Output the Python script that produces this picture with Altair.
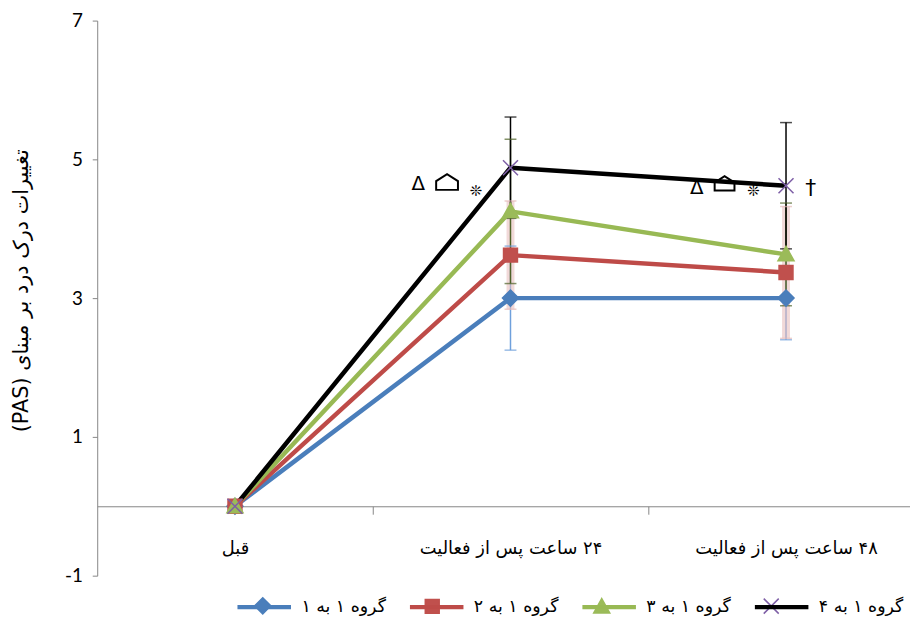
import altair as alt
import pandas as pd

# ---------------- data ----------------
categories = ["قبل", "۲۴ ساعت پس از فعالیت", "۴۸ ساعت پس از فعالیت"]
groups = ["گروه ۱ به ۱", "گروه ۱ به ۲", "گروه ۱ به ۳", "گروه ۱ به ۴"]

g1_mean = [0.0, 3.00, 3.00]
g2_mean = [0.0, 3.62, 3.37]
g3_mean = [0.0, 4.25, 3.63]
g4_mean = [0.0, 4.88, 4.62]

g1_err = [0.0, 0.75, 0.60]
g2_err = [0.0, 0.78, 0.95]
g3_err = [0.0, 1.04, 0.74]
g4_err = [0.0, 0.73, 0.91]

y_ticks = [-1, 1, 3, 5, 7]
y_title = "تغییرات درک درد بر مبنای (PAS)"

# significance marks (category index, value, symbol)
ann_cat = [1, 1, 1, 2, 2, 2, 2]
ann_val = [4.64, 4.67, 4.54, 4.59, 4.65, 4.54, 4.59]
ann_text = ["Δ", "⌂", "❊", "Δ", "⌂", "❊", "†"]

# ---------------- style ----------------
ann_dx = [-93, -64, -35, -90, -62, -33, 25]     # pixel offsets from the category
ann_size = [20, 22, 15, 20, 20, 15, 22]

line_colors = ["#4A7EBB", "#BE4B48", "#98B954", "#000000"]
marker_fill = ["#4A7EBB", "#C0504D", "#9BBB59", "transparent"]
marker_stroke = ["#4A7EBB", "#C0504D", "#9BBB59", "#7E5FA6"]
err_colors = ["#6FA0DC", "#E6B9B8", "#4F6228", "#000000"]
err_width = [1.5, 8, 1.5, 1.5]
err_opacity = [1, 0.55, 1, 1]
ext = "M-1,0M1,0"   # keeps every legend symbol as wide as the line symbol
marker_paths = [
    "M0,-0.3L0.3,0L0,0.3L-0.3,0Z" + ext,
    "M-0.26,-0.26L0.26,-0.26L0.26,0.26L-0.26,0.26Z" + ext,
    "M0,-0.3L0.3,0.24L-0.3,0.24Z" + ext,
    "M-0.28,-0.28L0.28,0.28M-0.28,0.28L0.28,-0.28" + ext,
]
house_path = "M-1,0.7L-1,-0.1L0,-0.75L1,-0.1L1,0.7Z"
SYM = 2916          # 54 px wide symbol box
W, H = 820, 560
x_dom = [-0.5, 2.45]
y_dom = [-1, 7]
step = W / (x_dom[1] - x_dom[0])
x_axis_offset = -(0 - y_dom[0]) / (y_dom[1] - y_dom[0]) * H
font_fa = "DejaVu Sans"
RLE, PDF = "\u202B", "\u202C"

means = [g1_mean, g2_mean, g3_mean, g4_mean]
errs = [g1_err, g2_err, g3_err, g4_err]
rows = []
for gi, g in enumerate(groups):
    for ci, c in enumerate(categories):
        m, e = means[gi][ci], errs[gi][ci]
        rows.append(dict(xi=ci, cat=c, g=g, gm=g, v=m, lo=m - e, hi=m + e, err=e,
                         ecol=err_colors[gi], ew=err_width[gi], eo=err_opacity[gi], order=gi))
df = pd.DataFrame(rows)
df_err = df[df.err > 0]

ann = pd.DataFrame(dict(x=[c + dx / step for c, dx in zip(ann_cat, ann_dx)],
                        v=ann_val, t=ann_text, s=ann_size))
ann_txt = ann[ann.t != "⌂"]
ann_house = ann[ann.t == "⌂"]

label_expr = " : ".join(
    f"datum.value == {i} ? '{RLE}{c}{PDF}'" for i, c in enumerate(categories)) + " : ''"

x_scale = alt.Scale(domain=x_dom, nice=False, zero=False)
y_scale = alt.Scale(domain=y_dom, nice=False, zero=False)

x_axis = alt.Axis(
    values=[0, 0.5, 1, 1.5, 2], labelExpr=label_expr, title=None, grid=False,
    offset=x_axis_offset, domainColor="#868686", tickColor="#868686", tickSize=8,
    tickOpacity={"condition": {"test": "datum.value % 1 === 0", "value": 0}, "value": 1},
    labelFont=font_fa, labelFontSize=18, labelColor="black", labelPadding=26,
    labelOverlap=False, labelFlush=False, labelBound=False, labelLimit=0,
)
y_axis = alt.Axis(
    values=y_ticks, labelExpr="'' + datum.value", grid=False,
    domainColor="#868686", tickColor="#868686", tickSize=5,
    labelFont="Lato", labelFontSize=19, labelColor="black", labelPadding=10,
    title=RLE + y_title + PDF, titleFont=font_fa, titleFontSize=21, titleFontWeight="normal",
    titleColor="black", titleX=-76, titleY=272, titleAngle=270,
    titleAlign="center", titleBaseline="middle", titleLimit=0,
)

X = alt.X("xi:Q", scale=x_scale, axis=x_axis)
Y = alt.Y("v:Q", scale=y_scale, axis=y_axis)

leg_common = dict(title=None, orient="none", legendX=139, legendY=562, direction="horizontal",
                  symbolSize=SYM, labelFont=font_fa, labelFontSize=17.5, labelColor="black",
                  labelOffset=8, padding=0, labelLimit=0, gridAlign="all")
# line legend (with the labels)
legA = alt.Legend(symbolType="stroke", symbolStrokeWidth=4.5, columnPadding=14, **leg_common)
# marker legend drawn on top of the line legend (no labels, same pitch)
legB = alt.Legend(symbolStrokeWidth=1.5, symbolOpacity=1, labelExpr="''",
                  columnPadding=105, **leg_common)

base = alt.Chart(df)

err_rule = alt.Chart(df_err).mark_rule().encode(
    x=alt.X("xi:Q", scale=x_scale), y=alt.Y("lo:Q", scale=y_scale), y2="hi:Q",
    color=alt.Color("ecol:N", scale=None),
    strokeWidth=alt.StrokeWidth("ew:Q", scale=None),
    opacity=alt.Opacity("eo:Q", scale=None),
)
cap_lo = alt.Chart(df_err).mark_tick(orient="horizontal", size=12, thickness=1.5).encode(
    x=alt.X("xi:Q", scale=x_scale), y=alt.Y("lo:Q", scale=y_scale),
    color=alt.Color("ecol:N", scale=None),
)
cap_hi = alt.Chart(df_err).mark_tick(orient="horizontal", size=12, thickness=1.5).encode(
    x=alt.X("xi:Q", scale=x_scale), y=alt.Y("hi:Q", scale=y_scale),
    color=alt.Color("ecol:N", scale=None),
)

lines = base.mark_line(strokeWidth=4.5, strokeJoin="round").encode(
    x=X, y=Y,
    color=alt.Color("g:N", scale=alt.Scale(domain=groups, range=line_colors), legend=legA),
    order="xi:Q",
)

points = base.mark_point(size=SYM, opacity=1, strokeWidth=1.5).encode(
    x=alt.X("xi:Q", scale=x_scale), y=alt.Y("v:Q", scale=y_scale),
    shape=alt.Shape("gm:N", scale=alt.Scale(domain=groups, range=marker_paths), legend=legB),
    fill=alt.Fill("gm:N", scale=alt.Scale(domain=groups, range=marker_fill), legend=legB),
    stroke=alt.Stroke("gm:N", scale=alt.Scale(domain=groups, range=marker_stroke), legend=legB),
    order="order:Q",
)

texts = alt.Chart(ann_txt).mark_text(color="black", font=font_fa, baseline="middle", align="center").encode(
    x=alt.X("x:Q", scale=x_scale), y=alt.Y("v:Q", scale=y_scale),
    text="t:N", size=alt.Size("s:Q", scale=None),
)
houses = alt.Chart(ann_house).mark_point(shape=house_path, filled=False, color="black",
                                          strokeWidth=2, opacity=1).encode(
    x=alt.X("x:Q", scale=x_scale), y=alt.Y("v:Q", scale=y_scale),
    size=alt.Size("s:Q", scale=alt.Scale(type="pow", exponent=2, domain=[0, 1], range=[0, 1]), legend=None),
)

chart = alt.layer(err_rule, cap_lo, cap_hi, lines, points, texts, houses).resolve_scale(
    color="independent"
).properties(
    width=W, height=H,
    autosize=alt.AutoSizeParams(type="none"),
    padding={"left": 90, "top": 10, "right": 0, "bottom": 38},
    background="white",
).configure_view(stroke=None)

chart.save("out.html", embed_options={"renderer": "svg", "actions": False})
